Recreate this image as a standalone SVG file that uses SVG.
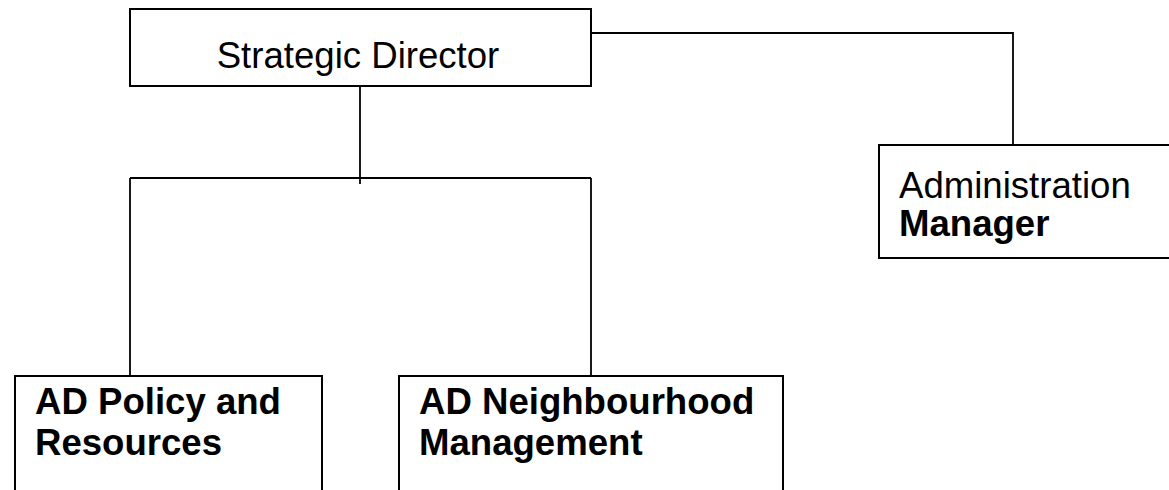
<svg xmlns="http://www.w3.org/2000/svg" width="1169" height="490" viewBox="0 0 1169 490">
<style>
.box{fill:#fff;stroke:#000;stroke-width:2}
.ln{fill:none;stroke:#000;stroke-width:1.8}
.t{font-family:"Liberation Sans",Arial,sans-serif;font-size:36.6px;fill:#000}
.b{font-weight:bold}
</style>
<rect width="1169" height="490" fill="#fff"/>
<g id="connectors">
<path class="ln" d="M360,86 V184"/>
<path class="ln" d="M130,178 H591"/>
<path class="ln" d="M130,178 V376"/>
<path class="ln" d="M591,178 V376"/>
<path class="ln" d="M591,33 H1013 V145"/>
</g>
<g id="strategic-director">
<rect class="box" x="130" y="9" width="461" height="77"/>
<text class="t" x="358" y="68" text-anchor="middle">Strategic Director</text>
</g>
<g id="administration-manager">
<rect class="box" x="879" y="145" width="320" height="113"/>
<text class="t" x="899" y="198">Administration</text>
<text class="t b" x="899" y="236">Manager</text>
</g>
<g id="ad-policy">
<rect class="box" x="15" y="376" width="307" height="130"/>
<text class="t b" x="35" y="414">AD Policy and</text>
<text class="t b" x="35" y="455">Resources</text>
</g>
<g id="ad-neighbourhood">
<rect class="box" x="399" y="376" width="384" height="130"/>
<text class="t b" x="419" y="414">AD Neighbourhood</text>
<text class="t b" x="419" y="455">Management</text>
</g>
</svg>
